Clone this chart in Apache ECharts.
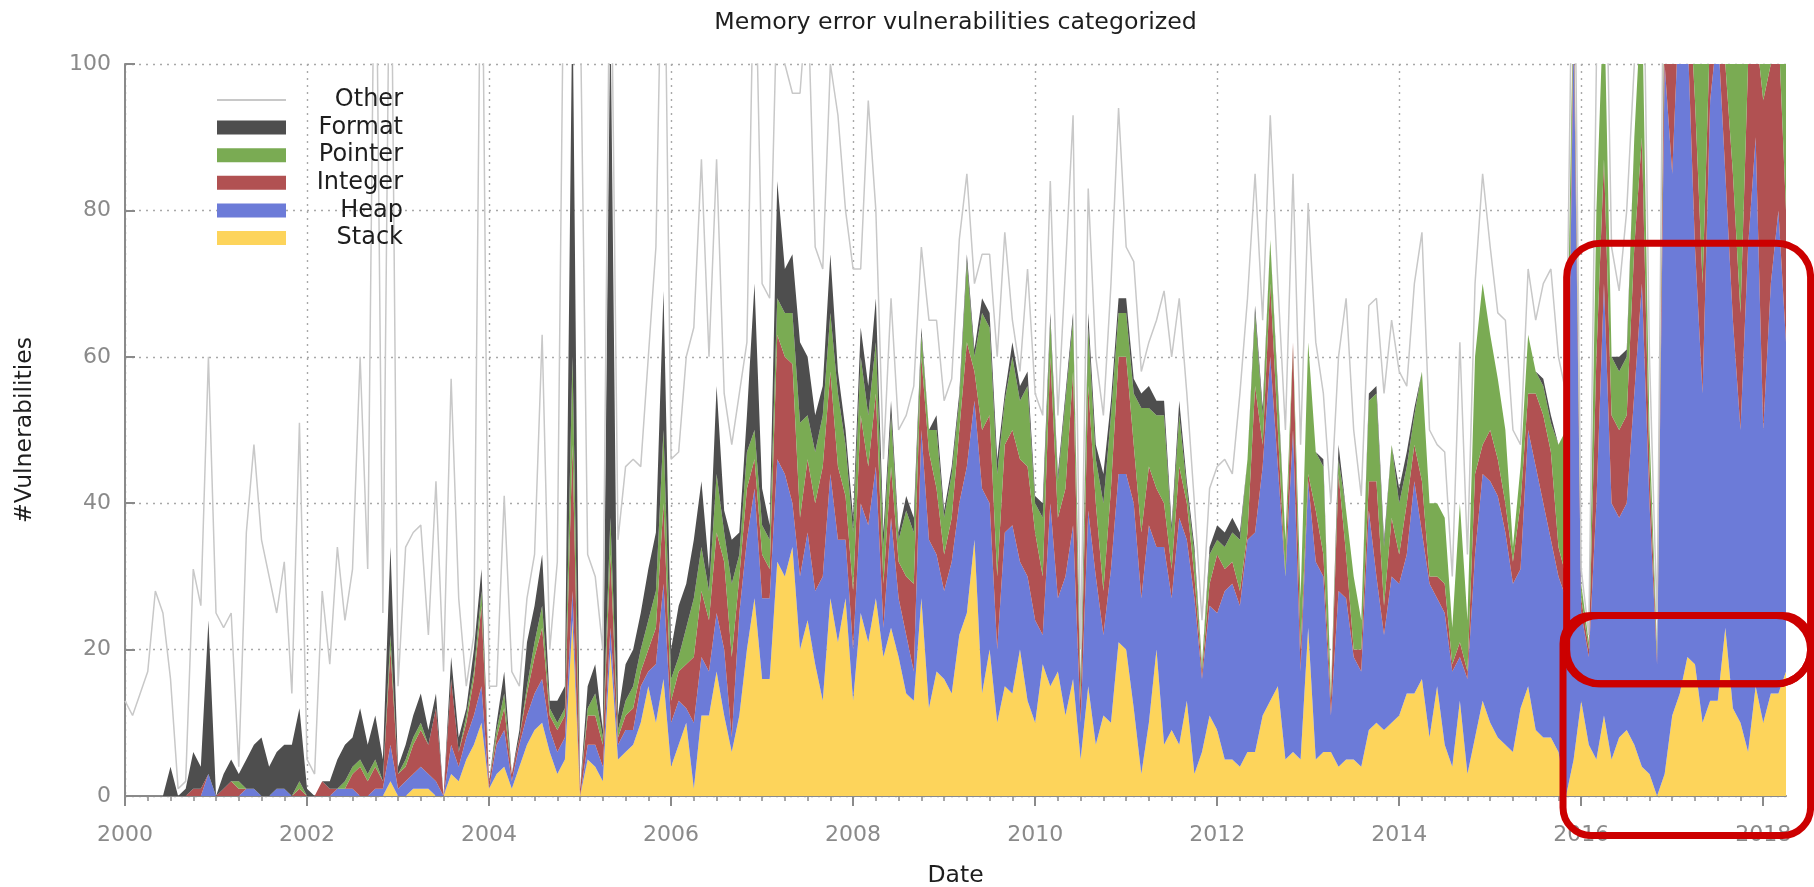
<!DOCTYPE html>
<html>
<head>
<meta charset="utf-8">
<script src="https://cdn.jsdelivr.net/npm/echarts@6/dist/echarts.min.js"></script>
<style>
  html, body { margin: 0; padding: 0; background: #ffffff; }
  #chart { width: 1814px; height: 887px; }
</style>
</head>
<body>
<div id="chart"></div>
<script>
// Monthly counts of memory error vulnerabilities, January 2000 onwards.
const startYear = 2000;

const stack = [
  0,0,0,0,0,0,0,0,0,0,
  0,0,0,0,0,0,0,0,0,0,
  0,0,0,0,0,0,0,0,0,0,
  0,0,0,0,0,2,0,0,1,1,
  1,0,0,3,2,5,7,10,1,3,
  4,1,4,7,9,10,6,3,5,24,
  0,5,4,2,20,5,6,7,10,15,
  10,16,4,7,10,1,11,11,17,11,
  6,11,20,27,16,16,32,30,34,20,
  24,18,13,27,21,27,13,25,21,27,
  19,23,19,14,13,27,12,17,16,14,
  22,25,35,14,20,10,15,14,20,13,
  10,18,15,17,11,16,5,15,7,11,
  10,21,20,12,3,10,20,7,9,7,
  13,3,6,11,9,5,5,4,6,6,
  11,13,15,5,6,5,23,5,6,6,
  4,5,5,4,9,10,9,10,11,14,
  14,16,8,15,7,4,13,3,8,13,
  10,8,7,6,12,15,9,8,8,6,
  0,5,13,7,5,11,5,8,9,7,
  4,3,0,3,11,14,19,18,10,13,
  13,23,12,10,6,15,10,14,14,17
];

const heap = [
  0,0,0,0,0,0,0,0,0,0,
  0,3,0,0,0,0,1,1,0,0,
  1,1,0,0,0,0,0,0,1,1,
  1,0,0,1,1,5,1,2,2,3,
  2,2,0,4,2,3,4,5,0,4,
  5,1,3,4,5,6,3,3,3,4,
  0,2,3,2,3,2,3,2,5,2,
  8,13,6,6,2,9,8,6,8,9,
  2,14,15,15,11,11,14,14,6,10,
  12,10,17,17,14,8,7,15,16,18,
  4,15,8,8,4,23,23,16,12,18,
  18,20,19,28,20,10,21,23,12,17,
  14,4,25,10,19,21,5,24,23,11,
  21,23,24,28,24,27,14,27,18,31,
  22,24,10,15,16,23,24,22,29,30,
  34,47,30,25,44,12,20,27,24,5,
  24,22,14,13,30,20,13,20,18,19,
  29,20,21,12,18,13,6,13,25,31,
  33,33,29,23,19,35,36,32,27,24,
  27,100,12,12,35,59,35,30,31,48,
  66,37,18,97,74,96,86,57,45,82,
  92,62,53,40,69,75,40,56,66,45
];

const integer = [
  0,0,0,0,0,0,0,0,0,1,
  1,0,0,1,2,1,0,0,0,0,
  0,0,0,1,0,0,2,1,0,0,
  2,4,2,3,1,13,2,2,4,5,
  4,10,0,9,2,2,5,11,1,1,
  3,1,1,3,5,7,2,3,3,20,
  1,4,4,3,10,1,2,3,2,3,
  5,11,3,4,6,9,9,7,11,12,
  11,5,7,4,6,4,17,16,19,8,
  10,12,15,14,10,6,8,12,8,10,
  6,7,5,8,12,10,12,9,5,6,
  10,17,4,8,12,10,12,13,14,15,
  12,8,20,11,12,21,3,17,10,6,
  11,16,16,8,9,8,8,6,4,7,
  5,3,1,3,8,3,3,2,1,20,
  3,10,5,0,12,3,1,7,3,2,
  16,6,1,3,4,13,4,8,4,7,
  5,7,1,3,4,1,2,1,11,4,
  7,5,4,3,9,5,10,12,12,4,
  3,5,2,1,20,17,12,12,12,20,
  20,5,1,10,30,5,10,20,15,10,
  5,15,20,16,25,15,45,30,25,18
];

const pointer = [
  0,0,0,0,0,0,0,0,0,0,
  0,0,0,0,0,1,0,0,0,0,
  0,0,0,1,0,0,0,0,0,1,
  1,1,1,1,0,2,0,1,1,1,
  0,0,0,0,0,1,1,2,0,1,
  2,0,0,1,2,3,1,1,1,12,
  0,1,3,1,5,1,2,3,3,4,
  5,10,3,2,5,8,6,4,8,4,
  10,3,5,4,4,4,5,6,7,13,
  6,7,7,8,10,7,8,8,7,7,
  5,7,3,9,7,3,3,8,5,6,
  4,11,2,16,12,14,6,10,8,11,
  4,8,5,5,12,7,2,8,6,12,
  10,6,6,7,17,8,10,12,5,7,
  2,3,1,4,2,3,4,7,10,10,
  4,6,5,5,0,7,18,8,12,1,
  2,6,10,4,11,12,8,10,7,5,
  4,15,10,10,9,5,19,7,16,22,
  13,11,10,2,5,8,3,4,4,14,
  20,2,2,1,20,23,8,8,8,15,
  20,5,1,5,5,5,5,15,35,10,
  10,15,25,39,15,10,15,10,10,20
];

const format = [
  0,0,0,0,0,0,4,0,1,5,
  3,21,0,2,3,1,4,6,8,4,
  5,6,7,10,1,0,0,1,4,5,
  4,7,4,6,3,12,1,2,3,4,
  2,2,0,3,2,1,3,3,0,1,
  3,0,1,6,5,7,1,3,3,50,
  0,3,4,1,70,2,5,5,5,7,
  8,19,4,7,6,8,9,3,12,3,
  6,3,5,20,5,2,16,6,8,11,
  8,5,4,8,3,2,2,4,4,6,
  2,2,1,2,2,1,0,2,1,1,
  1,1,1,2,2,2,1,2,2,2,
  1,2,1,1,1,1,1,2,2,4,
  2,2,2,2,2,3,2,2,1,2,
  1,1,0,1,2,2,2,1,0,1,
  1,0,1,0,0,0,0,0,1,0,
  2,0,0,0,1,1,1,0,2,2,
  1,0,0,0,0,0,0,0,0,0,
  0,0,0,0,0,0,0,1,1,0,
  0,0,0,0,0,0,0,2,1,0,
  0,0,0,0,0,0,0,0,0,0,
  0,0,0,0,0,0,0,0,0,0
];

const other = [
  13,11,14,17,28,25,12,1,1,25,
  22,36,25,20,20,1,31,41,27,26,
  19,25,7,39,4,3,26,16,29,17,
  23,48,24,119,20,96,11,27,25,23,
  13,29,17,38,19,3,2,99,13,5,
  24,14,6,6,7,30,7,19,115,10,
  109,18,12,11,17,24,27,26,20,29,
  39,61,26,21,31,29,44,29,31,16,
  13,19,10,50,28,31,26,28,22,34,
  50,23,16,26,35,30,34,8,39,12,
  10,14,14,11,18,11,15,13,15,12,
  21,11,9,6,8,14,22,3,2,14,
  14,12,18,8,17,27,4,17,12,8,
  16,26,7,16,3,6,11,15,23,14,
  12,6,6,8,8,10,6,19,22,18,
  12,17,14,15,23,21,19,15,9,26,
  12,29,20,17,12,12,20,17,16,9,
  17,19,10,8,9,7,22,9,10,15,
  12,9,15,16,3,9,7,13,20,12,
  5,18,2,1,20,20,15,9,19,10,
  20,10,4,15,15,15,15,15,15,15,
  15,15,15,15,15,15,15,15,15,10
];

// Labelled years on the date axis
const yearTicks = [2000, 2002, 2004, 2006, 2008, 2010, 2012, 2014, 2016, 2018];

// Month categories, one per data point
const months = stack.map((_, i) =>
  (startYear + Math.floor(i / 12)) + '-' + String(i % 12 + 1).padStart(2, '0'));
const lastYear = startYear + (months.length - 1) / 12;

// Highlight frames drawn over the recent period: [x0, x1, yTop, yBottom, radius] in axis units
const highlightBoxes = [
  [2015.84, 2018.52, 75.5, 15.35, 34],
  [2015.82, 2018.52, 24.66, 15.35, 34],
  [2015.80, 2018.52, 24.66, -5.4, 28]
];

const FONT = 'DejaVu Sans';
const layers = [
  { name: 'Stack',   data: stack,   color: '#fdd45b' },
  { name: 'Heap',    data: heap,    color: '#6c7bd8' },
  { name: 'Integer', data: integer, color: '#b15152' },
  { name: 'Pointer', data: pointer, color: '#7aab53' },
  { name: 'Format',  data: format,  color: '#4e4e4e' }
];

const series = layers.map(l => ({
  type: 'line',
  name: l.name,
  data: l.data,
  stack: 'total',
  xAxisIndex: 0,
  symbol: 'none',
  showSymbol: false,
  lineStyle: { width: 0 },
  itemStyle: { color: l.color },
  areaStyle: { color: l.color, opacity: 1 },
  emphasis: { disabled: true },
  silent: true
}));
series.push({
  type: 'line',
  name: 'Other',
  data: other,
  stack: 'total',
  xAxisIndex: 0,
  symbol: 'none',
  showSymbol: false,
  lineStyle: { color: '#c8c8c8', width: 1.5 },
  itemStyle: { color: '#c8c8c8' },
  emphasis: { disabled: true },
  silent: true
});

const gridDots = { type: [2, 5], color: '#a8a8a8', width: 1.4 };
const axisGray = '#8a8a8a';

const chart = echarts.init(document.getElementById('chart'), null, { renderer: 'canvas' });
chart.setOption({
  animation: false,
  backgroundColor: '#ffffff',
  textStyle: { fontFamily: FONT },
  grid: { left: 125, right: 28, top: 64, bottom: 91, containLabel: false, outerBoundsMode: 'none' },
  legend: {
    orient: 'vertical',
    left: 217,
    top: 88,
    padding: 0,
    itemWidth: 69,
    itemHeight: 14,
    itemGap: 3.6,
    icon: 'rect',
    selectedMode: false,
    itemStyle: { borderWidth: 0 },
    formatter: '{n|{name}}',
    textStyle: {
      fontFamily: FONT, fontSize: 24, color: '#1e1e1e',
      rich: { n: { width: 112, align: 'right', fontSize: 24, lineHeight: 24, color: '#1e1e1e', fontFamily: FONT } }
    },
    data: [
      { name: 'Other', icon: 'path://M0 0L0.01 0Z M0 6L69 6L69 8L0 8Z M0 14L0.01 14Z' },
      'Format', 'Pointer', 'Integer', 'Heap', 'Stack'
    ]
  },
  xAxis: [
    {
      type: 'category',
      data: months,
      boundaryGap: false,
      show: false
    },
    {
      type: 'value',
      min: startYear,
      max: lastYear,
      interval: 2,
      position: 'bottom',
      name: 'Date',
      nameLocation: 'middle',
      nameGap: 68,
      nameTextStyle: { fontFamily: FONT, fontSize: 23.5, color: '#1e1e1e' },
      axisLine: { show: true, onZero: false, lineStyle: { color: axisGray, width: 2 } },
      axisTick: { show: true, inside: false, length: 10, customValues: yearTicks,
                  lineStyle: { color: axisGray, width: 2 } },
      minorTick: { show: true, splitNumber: 8, length: 5, lineStyle: { color: axisGray, width: 1.5 } },
      axisLabel: { customValues: yearTicks, margin: 28, fontSize: 22, color: axisGray, fontFamily: FONT,
                   formatter: v => String(Math.round(v)) },
      splitLine: { show: true, lineStyle: gridDots }
    }
  ],
  yAxis: {
    type: 'value',
    min: 0,
    max: 100,
    interval: 20,
    name: '#Vulnerabilities',
    nameLocation: 'middle',
    nameGap: 88,
    nameRotate: 90,
    nameTextStyle: { fontFamily: FONT, fontSize: 23.5, color: '#1e1e1e' },
    axisLine: { show: true, lineStyle: { color: axisGray, width: 2 } },
    axisTick: { show: true, inside: true, length: 10, lineStyle: { color: axisGray, width: 2 } },
    axisLabel: { margin: 14, fontSize: 22, color: axisGray, fontFamily: FONT },
    splitLine: { show: true, lineStyle: gridDots }
  },
  series: series
});

// Title and highlight frames placed from the grid's own coordinates
function drawOverlay() {
  const rect = chart.getModel().getComponent('grid', 0).coordinateSystem.getRect();
  const elements = [{
    type: 'text',
    x: rect.x + rect.width / 2,
    y: 23,
    z: 100,
    style: {
      text: 'Memory error vulnerabilities categorized',
      fontFamily: FONT, fontSize: 23.7, fill: '#1e1e1e',
      textAlign: 'center', textVerticalAlign: 'middle'
    }
  }];
  highlightBoxes.forEach(b => {
    const p0 = chart.convertToPixel({ xAxisIndex: 1, yAxisIndex: 0 }, [b[0], b[2]]);
    const p1 = chart.convertToPixel({ xAxisIndex: 1, yAxisIndex: 0 }, [b[1], b[3]]);
    elements.push({
      type: 'rect',
      z: 100,
      shape: { x: p0[0], y: p0[1], width: p1[0] - p0[0], height: p1[1] - p0[1], r: b[4] },
      style: { fill: 'none', stroke: '#cc0000', lineWidth: 7 },
      silent: true
    });
  });
  chart.setOption({ graphic: { elements: elements } });
}
drawOverlay();
</script>
</body>
</html>
